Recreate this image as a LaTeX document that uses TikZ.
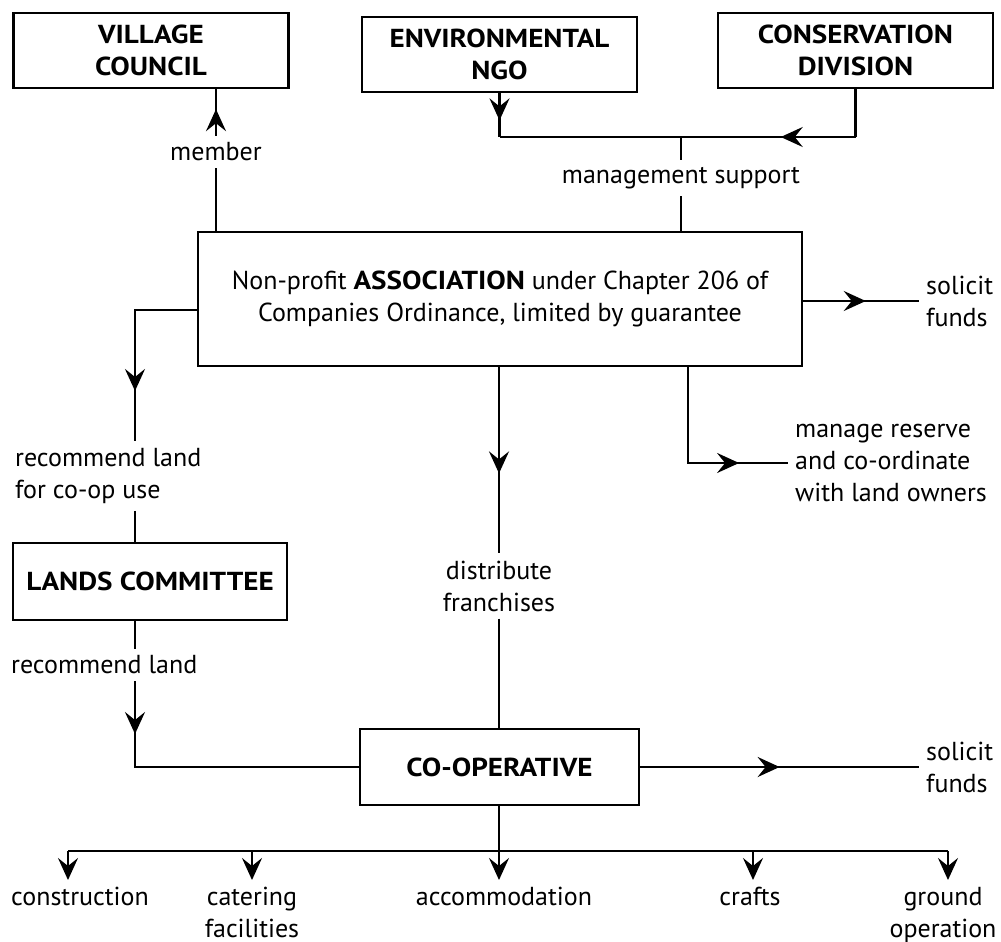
\documentclass[tikz,border=0pt]{standalone}
\usepackage{fontspec}
\setmainfont{PT Sans}[BoldFeatures={FakeStretch=1.12}]
\usetikzlibrary{arrows.meta,decorations.markings}

\newcommand\diafont{\fontsize{13}{16}\selectfont}

\tikzset{
  barb/.tip={Stealth[length=11pt,width=10pt,inset=4pt]},
  box/.style={draw, line width=1.3pt, align=center, inner sep=0pt, font=\diafont\bfseries},
  plainbox/.style={box, font=\diafont},
  lbl/.style={align=center, inner sep=3pt, font=\diafont},
  midarrow/.style={postaction={decorate},
    decoration={markings, mark=at position #1 with {\arrow{barb}}}},
}

\begin{document}
\begin{tikzpicture}[x=0.5pt, y=-0.5pt, line width=1.2pt, line join=miter]
    \useasboundingbox (0,0) rectangle (1001,942);

    % boxes
    \node[box, minimum width=137.5pt, minimum height=37.5pt] (vc) at (151,50.5) {VILLAGE\\COUNCIL};
    \node[box, minimum width=137.5pt, minimum height=37.5pt] (ngo) at (499.5,54.5) {ENVIRONMENTAL\\NGO};
    \node[box, minimum width=137.5pt, minimum height=37.5pt] (cd) at (855.5,50.5) {CONSERVATION\\DIVISION};
    \node[plainbox, minimum width=302pt, minimum height=67pt] (assoc) at (500,299)
      {Non-profit \textbf{ASSOCIATION} under Chapter 206 of\\Companies Ordinance, limited by guarantee};
    \node[box, minimum width=137pt, minimum height=38.5pt] (lc) at (150,581.5) {LANDS COMMITTEE};
    \node[box, minimum width=139.5pt, minimum height=38pt] (coop) at (499.5,767) {CO-OPERATIVE};

    % labels on the lines
    \node[lbl] (mem) at (216,152) {member};
    \node[lbl] (ms) at (681,178) {management support};
    \node[lbl, anchor=west, align=left] (sf1) at (919,301) {solicit\\funds};
    \node[lbl, anchor=west, align=left] (mr) at (788,463) {manage reserve\\and co-ordinate\\with land owners};
    \node[lbl, anchor=west, align=left] (rl1) at (8,476) {recommend land\\for co-op use};
    \node[lbl, anchor=west] (rl2) at (4,665) {recommend land};
    \node[lbl] (df) at (499,586) {distribute\\franchises};
    \node[lbl, anchor=west, align=left] (sf2) at (919,767) {solicit\\funds};

    % helper points
    \coordinate (jn) at (681,137);
    \coordinate (mrx) at (688,0);
    \coordinate (lx) at (135,310);
    \coordinate (bus) at (499,851);

    % member of village council
    \draw (assoc.north -| mem) -- (mem.south);
    \draw[midarrow=0.57] (mem.north) -- (mem |- vc.south);

    % management support
    \draw[midarrow=0.62] (ngo.south) -- (ngo.south |- jn);
    \draw (cd.south) -- (cd.south |- jn);
    \draw[midarrow=0.21] (cd.south |- jn) -- (ngo.south |- jn);
    \draw (jn) -- (ms.north);
    \draw (ms.south) -- (ms |- assoc.north);

    % association outputs
    \draw[midarrow=0.54] (assoc.east |- sf1) -- (sf1.west);
    \draw[midarrow=0.75] (assoc.south -| mrx) |- (mr.west);
    \draw[midarrow=0.57] (assoc.south -| df) -- (df.north);
    \draw (df.south) -- (df |- coop.north);

    % land route
    \draw[midarrow=0.74] (assoc.west |- lx) -| (rl1.north -| lx);
    \draw (rl1.south -| lx) -- (lc.north -| lx);
    \draw (lc.south -| lx) -- (rl2.north -| lx);
    \draw[midarrow=0.17] (rl2.south -| lx) |- (coop.west);

    % co-operative outputs
    \draw[midarrow=0.5] (coop.east) -- (sf2.west);
    \draw (coop.south -| bus) -- (bus);
    \foreach \n/\ax/\tx/\t in {con/68/80/construction, cat/252/252/{catering\\facilities},
        acc/499/504/accommodation, cra/753/750/crafts, gro/948/943/{ground\\operation}} {
      \node[lbl, anchor=north] (\n) at (\tx,880) {\t};
      \coordinate (\n-top) at (\ax,851);
      \draw[-barb] (\n-top) -- (\n-top |- \n.north);
    }
    \draw (con-top) -- (gro-top);
\end{tikzpicture}
\end{document}
